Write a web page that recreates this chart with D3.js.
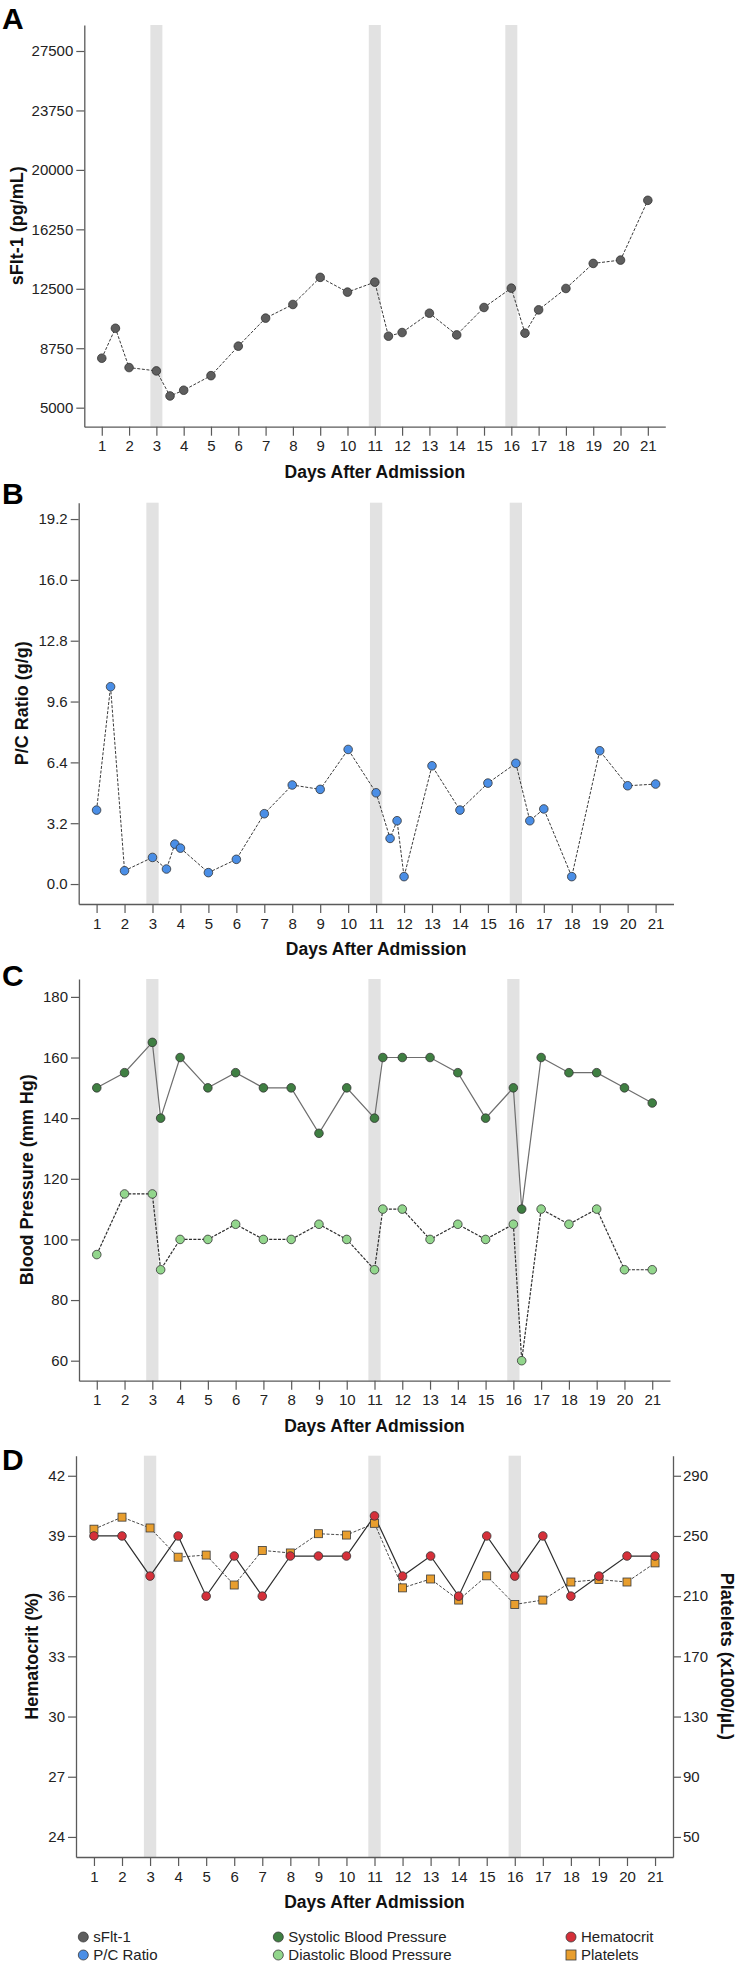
<!DOCTYPE html>
<html><head><meta charset="utf-8">
<script src="https://cdn.jsdelivr.net/npm/d3@7"></script>
<style>body{margin:0;background:#fff}svg{display:block}</style>
</head><body>
<script>
// ---------- DATA ----------
const dayTicks = [1,2,3,4,5,6,7,8,9,10,11,12,13,14,15,16,17,18,19,20,21];
const bandDays = [3, 11, 16];

const sfltTicks = [5000, 8750, 12500, 16250, 20000, 23750, 27500];
const sfltDays = [1,1.5,2,3,3.5,4,5,6,7,8,9,10,11,11.5,12,13,14,15,16,16.5,17,18,19,20,21];
const sfltValues = [8120,10010,7530,7320,5740,6100,7020,8880,10650,11510,13220,12290,12920,9510,9740,10960,9590,11320,12540,9700,11170,12520,14100,14310,18080];

const pcTicks = [0.0, 3.2, 6.4, 9.6, 12.8, 16.0, 19.2];
const pcDays = [1,1.5,2,3,3.5,3.8,4,5,6,7,8,9,10,11,11.5,11.75,12,13,14,15,16,16.5,17,18,19,20,21];
const pcValues = [3.89,10.38,0.70,1.40,0.79,2.10,1.89,0.60,1.30,3.70,5.21,4.98,7.08,4.80,2.40,3.33,0.39,6.22,3.89,5.31,6.35,3.33,3.95,0.39,7.01,5.17,5.26];

const bpTicks = [60, 80, 100, 120, 140, 160, 180];
const bpDays = [1,2,3,3.3,4,5,6,7,8,9,10,11,11.3,12,13,14,15,16,16.3,17,18,19,20,21];
const systolicValues = [150,155,165,140,160,150,155,150,150,135,150,140,160,160,160,155,140,150,110,160,155,155,150,145];
const diastolicValues = [95,115,115,90,100,100,105,100,100,105,100,90,110,110,100,105,100,105,60,110,105,110,90,90];

const hctTicks = [24, 27, 30, 33, 36, 39, 42];
const pltTicks = [50, 90, 130, 170, 210, 250, 290];
const labDays = [1,2,3,4,5,6,7,8,9,10,11,12,13,14,15,16,17,18,19,20,21];
const hematocritValues = [39,39,37,39,36,38,36,38,38,38,40,37,38,36,39,37,39,36,37,38,38];
const plateletValues = [254.5,262.5,255.3,235.9,237.3,217.4,240.4,238.7,251.5,250.6,258.4,215.5,221.4,207.4,223.5,204.5,207.4,219.4,221.0,219.4,232.1];

const legendLabels = ["sFlt-1","P/C Ratio","Systolic Blood Pressure","Diastolic Blood Pressure","Hematocrit","Platelets"];
const legendColors = ["#5e5e5e","#4a8ee6","#3f7f42","#92d68c","#d5303a","#e89e2e"];
const legendShapes = ["circle","circle","circle","circle","circle","square"];

// ---------- DRAW ----------
const W = 737, H = 1963;
const FONT = "'Liberation Sans', Arial, Helvetica, sans-serif";
const AXIS_COL = "#5a5a5a";
const svg = d3.select("body").append("svg")
  .attr("width", W).attr("height", H)
  .style("font-family", FONT);

const xDomain = [0.36, 21.64];

function styleAxis(g) {
  g.select(".domain").attr("stroke", AXIS_COL).attr("stroke-width", 1.3);
  g.selectAll(".tick line").attr("stroke", AXIS_COL).attr("stroke-width", 1.2);
  g.selectAll(".tick text").attr("fill", "#222").style("font-size", "15px").style("font-family", FONT);
}

function panel(cfg) {
  const g = svg.append("g");
  const x = d3.scaleLinear().domain(xDomain).range([cfg.left, cfg.right]);
  const y = d3.scaleLinear().domain(cfg.yDomain).range([cfg.bottom, cfg.top]);

  // shaded bands
  g.selectAll("rect.band").data(bandDays).enter().append("rect")
    .attr("x", d => x(d - 0.22))
    .attr("width", d => x(d + 0.22) - x(d - 0.22))
    .attr("y", cfg.top).attr("height", cfg.bottom - cfg.top)
    .attr("fill", "#e2e2e2");

  // axes
  const xa = g.append("g").attr("transform", `translate(0,${cfg.bottom})`)
    .call(d3.axisBottom(x).tickValues(dayTicks).tickFormat(d3.format("d")).tickSize(9).tickPadding(5).tickSizeOuter(0));
  styleAxis(xa);
  const ya = g.append("g").attr("transform", `translate(${cfg.left},0)`)
    .call(d3.axisLeft(y).tickValues(cfg.yTicks).tickFormat(cfg.yFormat).tickSize(8).tickPadding(3).tickSizeOuter(0));
  styleAxis(ya);

  if (cfg.y2Domain) {
    const y2 = d3.scaleLinear().domain(cfg.y2Domain).range([cfg.bottom, cfg.top]);
    const ra = g.append("g").attr("transform", `translate(${cfg.right},0)`)
      .call(d3.axisRight(y2).tickValues(cfg.y2Ticks).tickFormat(d3.format("d")).tickSize(8).tickPadding(2).tickSizeOuter(0));
    styleAxis(ra);
    cfg.y2 = y2;
    g.append("text")
      .attr("transform", `translate(${cfg.y2LabelX},${(cfg.top + cfg.bottom) / 2}) rotate(90)`)
      .attr("text-anchor", "middle").attr("dy", "0.35em")
      .style("font-size", "18px").style("font-weight", "bold").attr("fill", "#111")
      .text(cfg.y2Label);
  }

  // labels
  g.append("text").attr("x", (cfg.left + cfg.right) / 2).attr("y", cfg.bottom + 51)
    .attr("text-anchor", "middle").style("font-size", "17.5px").style("font-weight", "bold").attr("fill", "#111")
    .text("Days After Admission");
  g.append("text")
    .attr("transform", `translate(${cfg.yLabelX},${(cfg.top + cfg.bottom) / 2}) rotate(-90)`)
    .attr("text-anchor", "middle").attr("dy", "0.35em")
    .style("font-size", "18px").style("font-weight", "bold").attr("fill", "#111")
    .text(cfg.yLabel);
  g.append("text").attr("x", 2).attr("y", cfg.letterY)
    .style("font-size", "30px").style("font-weight", "bold").attr("fill", "#000")
    .text(cfg.letter);

  // series lines
  cfg.series.forEach(s => {
    const yy = s.right ? cfg.y2 : y;
    const pts = s.days.map((d, i) => [d, s.values[i]]);
    g.append("path").datum(pts)
      .attr("fill", "none").attr("stroke", s.lineColor).attr("stroke-width", s.lineWidth || 1)
      .attr("stroke-dasharray", s.dash || null)
      .attr("d", d3.line().x(p => x(p[0])).y(p => yy(p[1])));
  });
  // series markers
  cfg.series.forEach(s => {
    const yy = s.right ? cfg.y2 : y;
    const pts = s.days.map((d, i) => [d, s.values[i]]);
    if (s.shape === "square") {
      g.selectAll(null).data(pts).enter().append("rect")
        .attr("x", p => x(p[0]) - 4).attr("y", p => yy(p[1]) - 4)
        .attr("width", 8).attr("height", 8)
        .attr("fill", s.color).attr("stroke", "#3a3a3a").attr("stroke-width", 0.8);
    } else {
      g.selectAll(null).data(pts).enter().append("circle")
        .attr("cx", p => x(p[0])).attr("cy", p => yy(p[1])).attr("r", 4.3)
        .attr("fill", s.color).attr("stroke", "#333").attr("stroke-width", 0.8);
    }
  });
}

panel({
  letter: "A", letterY: 29, left: 84.3, right: 665.3, top: 25, bottom: 426.7,
  yDomain: [3800, 29140], yTicks: sfltTicks, yFormat: d3.format("d"),
  yLabel: "sFlt-1 (pg/mL)", yLabelX: 17,
  series: [{days: sfltDays, values: sfltValues, color: legendColors[0], lineColor: "#3a3a3a", dash: "3,1.6"}]
});

panel({
  letter: "B", letterY: 503.5, left: 78.7, right: 673.5, top: 502.7, bottom: 904,
  yDomain: [-1.05, 20.06], yTicks: pcTicks, yFormat: d3.format(".1f"),
  yLabel: "P/C Ratio (g/g)", yLabelX: 22,
  series: [{days: pcDays, values: pcValues, color: legendColors[1], lineColor: "#3a3a3a", dash: "3,1.6"}]
});

panel({
  letter: "C", letterY: 986, left: 79, right: 670, top: 979, bottom: 1380.7,
  yDomain: [53.4, 185.9], yTicks: bpTicks, yFormat: d3.format("d"),
  yLabel: "Blood Pressure (mm Hg)", yLabelX: 27,
  series: [
    {days: bpDays, values: systolicValues, color: legendColors[2], lineColor: "#6e6e6e", lineWidth: 1.2},
    {days: bpDays, values: diastolicValues, color: legendColors[3], lineColor: "#2e2e2e", dash: "3,1.4", lineWidth: 1.2}
  ]
});

panel({
  letter: "D", letterY: 1470, left: 76, right: 673, top: 1455.7, bottom: 1857,
  yDomain: [23, 43], yTicks: hctTicks, yFormat: d3.format("d"),
  yLabel: "Hematocrit (%)", yLabelX: 32,
  y2Domain: [36.67, 303.33], y2Ticks: pltTicks, y2Label: "Platelets (x1000/\u00b5L)", y2LabelX: 727,
  series: [
    {days: labDays, values: plateletValues, color: legendColors[5], lineColor: "#4a4a4a", dash: "3,1.6", shape: "square", right: true},
    {days: labDays, values: hematocritValues, color: legendColors[4], lineColor: "#2e2e2e", lineWidth: 1.2}
  ]
});

// legend
const legX = [83.3, 83.3, 278.3, 278.3, 571, 571];
const legY = [1937, 1955, 1937, 1955, 1937, 1955];
const lg = svg.append("g");
legendLabels.forEach((lab, i) => {
  if (legendShapes[i] === "square") {
    lg.append("rect").attr("x", legX[i] - 5).attr("y", legY[i] - 5).attr("width", 10).attr("height", 10)
      .attr("fill", legendColors[i]).attr("stroke", "#3a3a3a").attr("stroke-width", 0.8);
  } else {
    lg.append("circle").attr("cx", legX[i]).attr("cy", legY[i]).attr("r", 5)
      .attr("fill", legendColors[i]).attr("stroke", "#3a3a3a").attr("stroke-width", 0.8);
  }
  lg.append("text").attr("x", legX[i] + 10).attr("y", legY[i]).attr("dy", "0.35em")
    .style("font-size", "15px").attr("fill", "#222").text(lab);
});
</script>
</body></html>
